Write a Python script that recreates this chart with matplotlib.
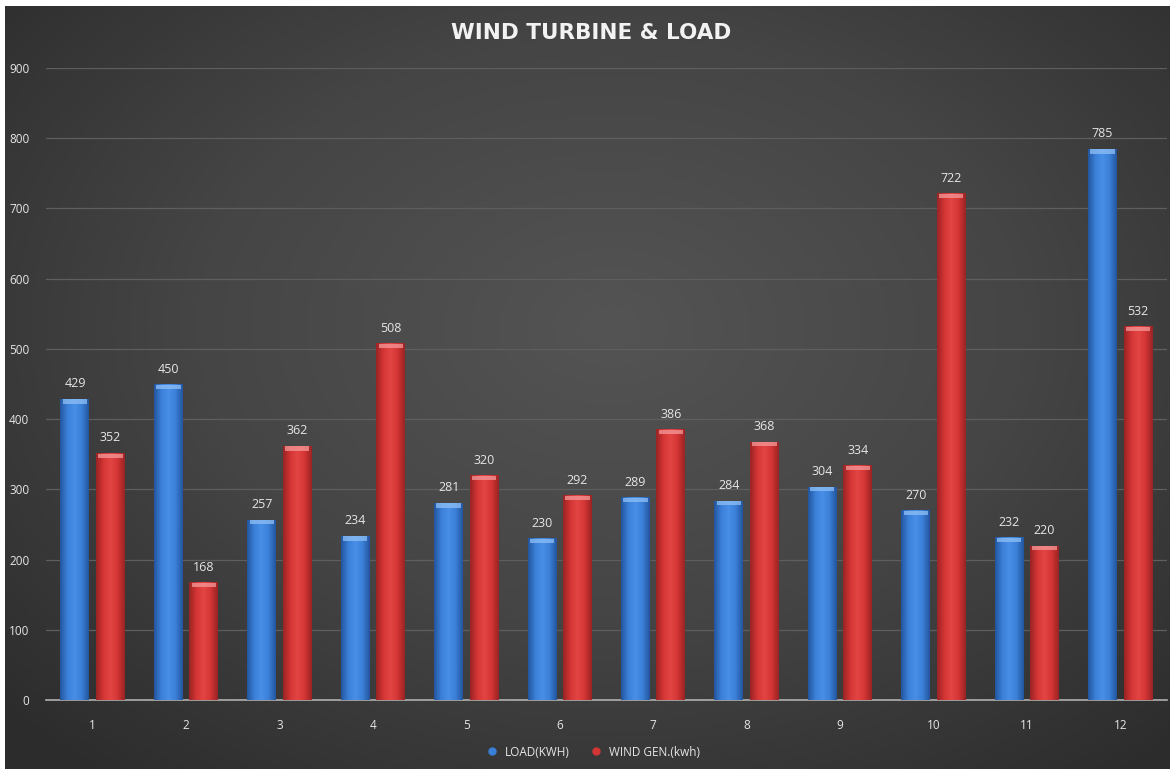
import numpy as np
import matplotlib
matplotlib.use("Agg")
import matplotlib.pyplot as plt
from matplotlib.colors import LinearSegmentedColormap
from matplotlib.lines import Line2D

months = [1, 2, 3, 4, 5, 6, 7, 8, 9, 10, 11, 12]
load_kwh = [429, 450, 257, 234, 281, 230, 289, 284, 304, 270, 232, 785]
wind_gen = [352, 168, 362, 508, 320, 292, 386, 368, 334, 722, 220, 532]
y_ticks = [0, 100, 200, 300, 400, 500, 600, 700, 800, 900]

plt.rcParams['font.family'] = ['Open Sans', 'DejaVu Sans']
txt = '#e6e6e6'

fig = plt.figure(figsize=(11.76, 7.69), dpi=100)
fig.patch.set_facecolor('white')

# dark radial background (white strip at top/left like the screenshot)
bg = fig.add_axes([5 / 1176, 0, 1165 / 1176, 1 - 6 / 769])
yy, xx = np.mgrid[0:1:300j, 0:1:460j]
r = np.sqrt(((xx - 0.52) / 0.75) ** 2 + ((yy - 0.42) / 0.8) ** 2)
bg_cmap = LinearSegmentedColormap.from_list('bg', ['#545454', '#454545', '#2c2c2c'])
bg.imshow(r, cmap=bg_cmap, aspect='auto', vmin=0, vmax=0.95, extent=[0, 1, 0, 1])
bg.set_axis_off()

ax = fig.add_axes([46 / 1176, 1 - 700 / 769, 1121 / 1176, (700 - 68) / 769])
ax.patch.set_alpha(0)

x = np.array(months, dtype=float)
w = 0.31
off = 0.19

blue_cmap = LinearSegmentedColormap.from_list('b', ['#23569e', '#3b80d8', '#4a8fe6', '#3b80d8', '#23569e'])
red_cmap = LinearSegmentedColormap.from_list('r', ['#9a2424', '#d43535', '#e34545', '#d43535', '#9a2424'])
grad = np.linspace(0, 1, 64).reshape(1, -1)

def shaded_bars(xs, vals, base, cmap, cap):
    bars = ax.bar(xs, vals, width=w, color=base, zorder=2)
    for b in bars:
        x0, bw, h = b.get_x(), b.get_width(), b.get_height()
        im = ax.imshow(grad, cmap=cmap, aspect='auto', extent=[x0, x0 + bw, 0, h], zorder=3)
        im.set_clip_path(b)
        ax.add_patch(plt.Rectangle((x0 + bw * 0.08, h - 7), bw * 0.84, 6,
                                   color=cap, alpha=0.75, lw=0, zorder=4))
        ax.text(x0 + bw / 2, h + 12, f'{int(h)}', ha='center', va='bottom',
                color=txt, fontsize=9, zorder=5)
    return bars

shaded_bars(x - off, load_kwh, '#3b80d8', blue_cmap, '#8fc0f5')
shaded_bars(x + off, wind_gen, '#d43535', red_cmap, '#f59a9a')

ax.set_xlim(0.5, 12.5)
ax.set_ylim(0, 900)
ax.set_yticks(y_ticks)
ax.set_xticks(months)
ax.set_xticklabels([str(m) for m in months])
ax.tick_params(colors=txt, labelsize=8.5, length=0)
ax.tick_params(axis='x', pad=14)
ax.tick_params(axis='y', pad=12)
ax.grid(axis='y', color='#5e5e5e', lw=0.9, zorder=0)
ax.set_axisbelow(True)
for s in ['top', 'right', 'left']:
    ax.spines[s].set_visible(False)
ax.spines['bottom'].set_color('#b0b0b0')
ax.spines['bottom'].set_linewidth(1.2)

fig.text(0.503, 1 - 33 / 769, 'WIND TURBINE & LOAD', ha='center', va='center',
         color='#f2f2f2', fontsize=15.5, fontweight='bold', family='DejaVu Sans')

handles = [Line2D([], [], marker='o', ls='', color='#3b80d8', markersize=5),
           Line2D([], [], marker='o', ls='', color='#d43535', markersize=5)]
fig.legend(handles, ['LOAD(KWH)', 'WIND GEN.(kwh)'], loc='center',
           bbox_to_anchor=(0.502, 1 - 752 / 769), ncol=2, frameon=False,
           labelcolor=txt, fontsize=8.5, handletextpad=0.1, columnspacing=1.2)

fig.savefig('out.png', dpi=100, facecolor=fig.get_facecolor())
